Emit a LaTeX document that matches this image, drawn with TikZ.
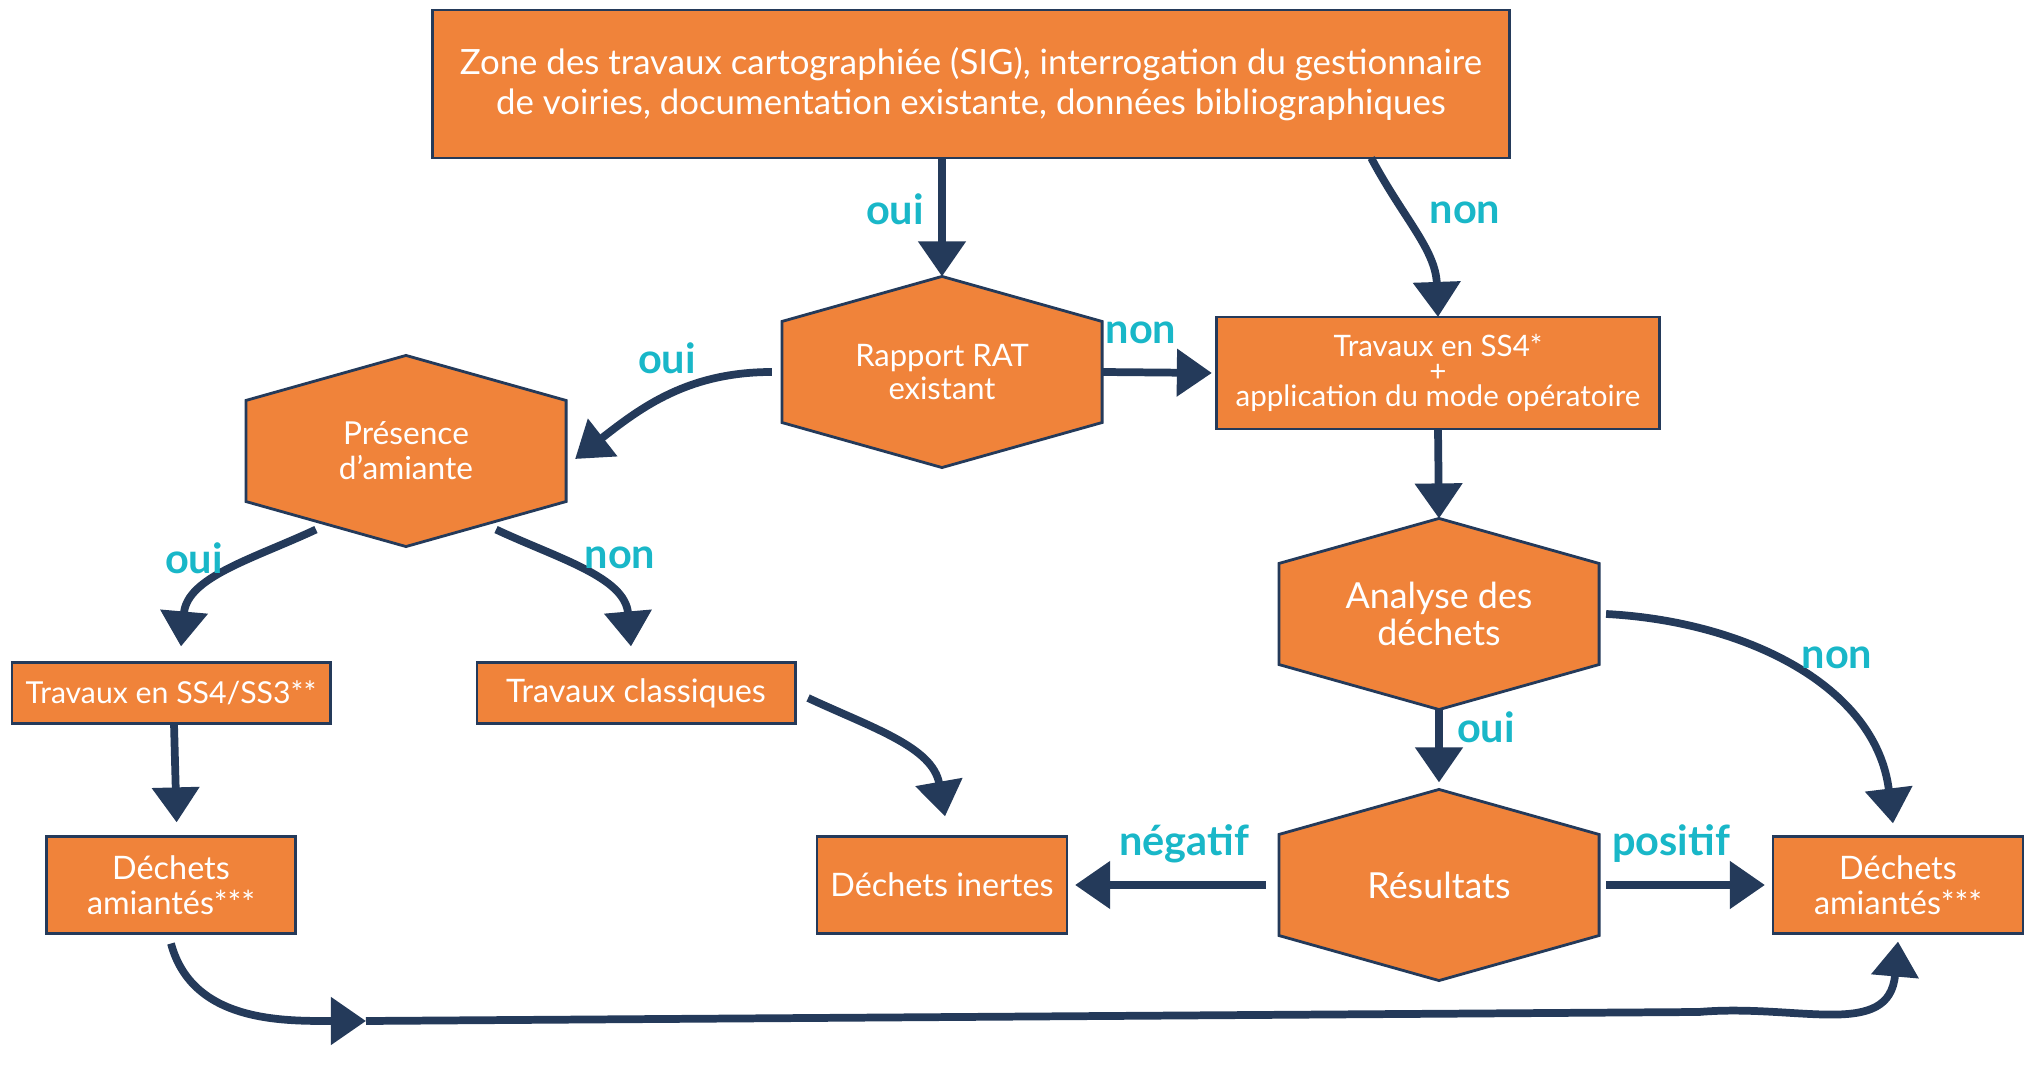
\documentclass[tikz,border=0pt]{standalone}
\usepackage{fontspec}
\setmainfont{Lato}
\usetikzlibrary{arrows.meta,backgrounds}
\definecolor{orangebox}{HTML}{F0833A}
\definecolor{navy}{HTML}{243A5A}
\definecolor{turq}{HTML}{19B7C8}
\tikzset{
  box/.style={draw=navy, line width=0.8pt, fill=orangebox, text=white,
    align=center, inner sep=0pt, outer sep=0pt},
  hexa/.style={text=white, align=center, minimum width=3.2cm,
    minimum height=1.91cm, inner sep=0pt, outer sep=0pt},
  hexline/.style={draw=navy, line width=0.8pt, fill=orangebox},
  arr/.style={navy, line width=2.2pt, -{Triangle[length=0.35cm,width=0.46cm]}},
  lab/.style={text=turq, font=\bfseries\fontsize{11.8}{13}\selectfont}
}

\begin{document}
\begin{tikzpicture}[x=0.01cm,y=0.01cm]
    \useasboundingbox (0,0) rectangle (2026,1066);
    % boites
    \node[box, minimum width=10.76cm, minimum height=1.48cm,
      font=\fontsize{9.9}{11.3}\selectfont] (top) at (971,982)
      {Zone des travaux cartographiée (SIG), interrogation du gestionnaire\\
       de voiries, documentation existante, données bibliographiques};
    \node[box, minimum width=4.42cm, minimum height=1.12cm,
      font=\fontsize{8.4}{7}\selectfont] (ss4) at (1438,693)
      {Travaux en SS4*\\+\\application du mode opératoire};
    \node[box, minimum width=3.18cm, minimum height=0.61cm,
      font=\fontsize{8.6}{9.6}\selectfont] (ss43) at (171,373) {Travaux en SS4/SS3**};
    \node[box, minimum width=3.18cm, minimum height=0.61cm,
      font=\fontsize{9.2}{9.6}\selectfont] (cls) at (636,373) {Travaux classiques};
    \node[box, minimum width=2.49cm, minimum height=0.97cm,
      font=\fontsize{9.2}{10}\selectfont] (damL) at (171,181) {Déchets\\amiantés***};
    \node[box, minimum width=2.5cm, minimum height=0.97cm,
      font=\fontsize{9.2}{9.6}\selectfont] (inert) at (942,181) {Déchets inertes};
    \node[box, minimum width=2.5cm, minimum height=0.97cm,
      font=\fontsize{9.2}{10}\selectfont] (damR) at (1898,181) {Déchets\\amiantés***};
    % hexagones
    \node[hexa, font=\fontsize{8.8}{9.2}\selectfont] (rat) at (942,694) {Rapport RAT\\existant};
    \node[hexa, font=\fontsize{9}{9.9}\selectfont] (pres) at (406,615) {Présence\\d’amiante};
    \node[hexa, font=\fontsize{10.2}{10.6}\selectfont] (ana) at (1439,452) {Analyse des\\déchets};
    \node[hexa, font=\fontsize{10.2}{10.6}\selectfont] (res) at (1439,181) {Résultats};
    \begin{scope}[on background layer]
      \fill[white] (0,0) rectangle (2026,1066);
      \foreach \n in {rat,pres,ana,res}
        \draw[hexline] (\n.north) -- ([yshift=-0.45cm]\n.north east)
          -- ([yshift=0.45cm]\n.south east) -- (\n.south)
          -- ([yshift=0.45cm]\n.south west) -- ([yshift=-0.45cm]\n.north west) -- cycle;
    \end{scope}
    % fleches
    \draw[arr] (top.south -| rat.north) -- (rat.north);
    \draw[arr] ([xshift=4cm]top.south) to[out=-62,in=92] (ss4.north);
    \draw[arr] (rat.east) -- ([xshift=-0.05cm]ss4.west);
    \draw[arr] ([xshift=-0.1cm]rat.west) to[out=180,in=38] ([xshift=0.09cm,yshift=-0.08cm]pres.east);
    \draw[arr] ([xshift=-0.9cm,yshift=0.17cm]pres.south)
      to[out=205,in=85] ([xshift=0.1cm,yshift=0.16cm]ss43.north);
    \draw[arr] ([xshift=0.9cm,yshift=0.17cm]pres.south)
      to[out=-25,in=95] ([xshift=-0.05cm,yshift=0.16cm]cls.north);
    \draw[arr, shorten >=4pt] ([xshift=0.03cm]ss43.south) -- ([xshift=0.06cm]damL.north);
    \draw[arr] ([xshift=0.13cm,yshift=-0.05cm]cls.east)
      to[out=-25,in=100] ([xshift=0.03cm,yshift=0.2cm]inert.north);
    \draw[arr] (ss4.south) -- (ana.north);
    \draw[arr] ([xshift=0.07cm]ana.east)
      to[out=-3,in=97] ([xshift=-0.05cm,yshift=0.13cm]damR.north);
    \draw[arr] (ana.south) -- ([yshift=0.07cm]res.north);
    \draw[arr] ([xshift=-0.13cm]res.west) -- ([xshift=0.08cm]inert.east);
    \draw[arr] ([xshift=0.07cm]res.east) -- ([xshift=-0.08cm]damR.west);
    % retour par le bas
    \coordinate (mid) at (366,45);
    \coordinate (bend) at (1699,54);
    \draw[arr] ([yshift=-0.1cm]damL.south) to[out=-75,in=180] (mid);
    \draw[arr] (mid) -- (bend) to[out=5,in=-95,looseness=1.2] ([yshift=-0.08cm]damR.south);
    % etiquettes
    \node[lab] (l-oui-top) at (895,857) {oui};
    \node[lab] (l-non-top) at (1465,853) {non};
    \node[lab] (l-non-rat) at (1141,733) {non};
    \node[lab] (l-oui-rat) at (667,708) {oui};
    \node[lab] (l-oui-pres) at (194,508) {oui};
    \node[lab] (l-non-pres) at (620,508) {non};
    \node[lab] (l-non-ana) at (1837,408) {non};
    \node[lab] (l-oui-ana) at (1486,339) {oui};
    \node[lab] (l-neg) at (1184,222) {négatif};
    \node[lab] (l-pos) at (1671,222) {positif};
\end{tikzpicture}
\end{document}
